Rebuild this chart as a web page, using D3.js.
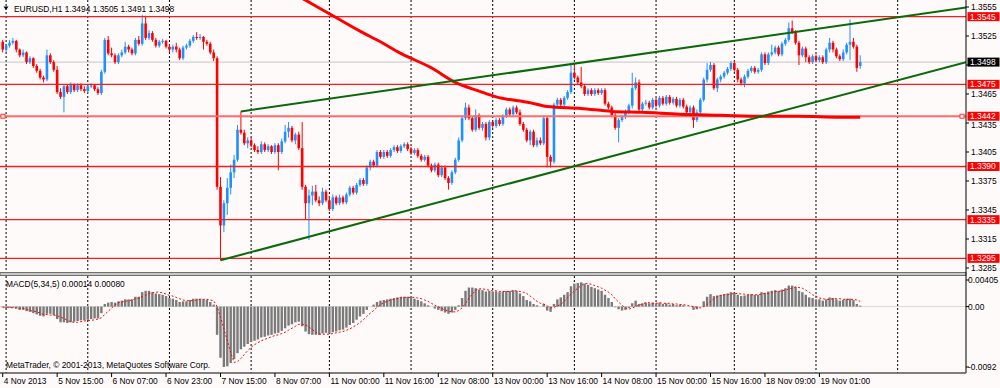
<html>
<head>
<script src="https://d3js.org/d3.v7.min.js"></script>
<style>
body { margin: 0; background: #fffafa; }
text { font-family: "Liberation Sans", Arial, sans-serif; font-size: 8.4px; fill: #000; }
</style>
</head>
<body>
<svg width="1000" height="388"></svg>
<script>
// EURUSD H1, 4 Nov 23:00 .. 19 Nov 13:00 2013 (bar index 0..252)
var open = [
1.3519,1.3511,1.3515,1.3518,1.3520,1.3511,1.3505,1.3508,1.3498,1.3502,
1.3494,1.3489,1.3482,1.3480,1.3505,1.3498,1.3490,1.3467,1.3462,1.3473,
1.3467,1.3475,1.3469,1.3474,1.3470,1.3468,1.3473,1.3474,1.3470,1.3466,
1.3488,1.3521,1.3507,1.3505,1.3498,1.3505,1.3508,1.3514,1.3511,1.3507,
1.3521,1.3517,1.3538,1.3523,1.3528,1.3521,1.3515,1.3519,1.3520,1.3514,
1.3511,1.3514,1.3511,1.3502,1.3513,1.3515,1.3520,1.3524,1.3523,1.3524,
1.3519,1.3517,1.3508,1.3502,1.3369,1.3329,1.3352,1.3368,1.3384,1.3397,
1.3428,1.3425,1.3414,1.3417,1.3412,1.3407,1.3405,1.3413,1.3407,1.3411,
1.3405,1.3412,1.3405,1.3416,1.3426,1.3430,1.3417,1.3423,1.3409,1.3369,
1.3352,1.3360,1.3364,1.3355,1.3352,1.3364,1.3355,1.3346,1.3358,1.3352,
1.3358,1.3353,1.3361,1.3368,1.3363,1.3371,1.3376,1.3372,1.3389,1.3395,
1.3391,1.3405,1.3400,1.3405,1.3401,1.3407,1.3410,1.3406,1.3411,1.3413,
1.3408,1.3404,1.3407,1.3401,1.3397,1.3400,1.3391,1.3386,1.3392,1.3381,
1.3389,1.3378,1.3373,1.3384,1.3397,1.3417,1.3440,1.3451,1.3440,1.3428,
1.3443,1.3430,1.3434,1.3420,1.3436,1.3432,1.3438,1.3434,1.3442,1.3449,
1.3444,1.3451,1.3446,1.3434,1.3428,1.3417,1.3426,1.3412,1.3417,1.3414,
1.3440,1.3400,1.3395,1.3454,1.3459,1.3454,1.3461,1.3467,1.3487,1.3482,
1.3477,1.3473,1.3465,1.3469,1.3465,1.3469,1.3466,1.3469,1.3455,1.3451,
1.3443,1.3430,1.3438,1.3441,1.3446,1.3453,1.3471,1.3477,1.3449,1.3455,
1.3456,1.3451,1.3459,1.3453,1.3461,1.3455,1.3462,1.3456,1.3460,1.3453,
1.3459,1.3452,1.3446,1.3451,1.3438,1.3446,1.3459,1.3480,1.3490,1.3495,
1.3471,1.3480,1.3483,1.3487,1.3491,1.3497,1.3490,1.3480,1.3476,1.3483,
1.3489,1.3492,1.3488,1.3490,1.3506,1.3497,1.3506,1.3508,1.3513,1.3506,
1.3517,1.3521,1.3533,1.3529,1.3518,1.3505,1.3512,1.3503,1.3498,1.3504,
1.3500,1.3503,1.3498,1.3511,1.3518,1.3511,1.3504,1.3501,1.3508,1.3516,
1.3519,1.3514,1.3494];
var high = [
1.3521,1.3517,1.3521,1.3523,1.3521,1.3512,1.3511,1.3509,1.3504,1.3503,
1.3496,1.3491,1.3484,1.3511,1.3507,1.3500,1.3494,1.3471,1.3475,1.3475,
1.3477,1.3476,1.3476,1.3476,1.3473,1.3475,1.3476,1.3475,1.3472,1.3490,
1.3523,1.3525,1.3513,1.3507,1.3507,1.3511,1.3519,1.3516,1.3513,1.3523,
1.3525,1.3547,1.3546,1.3531,1.3530,1.3523,1.3521,1.3522,1.3521,1.3516,
1.3516,1.3518,1.3513,1.3515,1.3517,1.3522,1.3526,1.3529,1.3527,1.3525,
1.3521,1.3519,1.3511,1.3504,1.3379,1.3355,1.3378,1.3392,1.3402,1.3433,
1.3447,1.3428,1.3420,1.3420,1.3414,1.3411,1.3416,1.3415,1.3413,1.3412,
1.3414,1.3414,1.3419,1.3433,1.3436,1.3432,1.3425,1.3426,1.3436,1.3371,
1.3366,1.3370,1.3371,1.3359,1.3368,1.3366,1.3359,1.3361,1.3360,1.3361,
1.3360,1.3363,1.3370,1.3370,1.3373,1.3378,1.3378,1.3391,1.3397,1.3397,
1.3407,1.3407,1.3407,1.3407,1.3409,1.3412,1.3412,1.3413,1.3415,1.3415,
1.3410,1.3409,1.3409,1.3403,1.3402,1.3402,1.3393,1.3394,1.3394,1.3391,
1.3391,1.3380,1.3386,1.3399,1.3420,1.3442,1.3456,1.3454,1.3442,1.3449,
1.3445,1.3436,1.3436,1.3438,1.3438,1.3440,1.3440,1.3444,1.3451,1.3451,
1.3453,1.3453,1.3449,1.3436,1.3430,1.3428,1.3428,1.3420,1.3420,1.3443,
1.3442,1.3402,1.3456,1.3461,1.3461,1.3463,1.3469,1.3495,1.3495,1.3484,
1.3493,1.3475,1.3471,1.3471,1.3471,1.3471,1.3471,1.3471,1.3457,1.3453,
1.3445,1.3440,1.3443,1.3449,1.3455,1.3487,1.3482,1.3480,1.3457,1.3459,
1.3458,1.3461,1.3461,1.3463,1.3463,1.3464,1.3464,1.3462,1.3462,1.3461,
1.3461,1.3454,1.3453,1.3453,1.3449,1.3461,1.3482,1.3497,1.3498,1.3497,
1.3482,1.3485,1.3489,1.3493,1.3499,1.3499,1.3492,1.3482,1.3485,1.3491,
1.3494,1.3494,1.3492,1.3508,1.3508,1.3508,1.3516,1.3515,1.3515,1.3519,
1.3523,1.3539,1.3541,1.3531,1.3520,1.3514,1.3514,1.3505,1.3506,1.3506,
1.3505,1.3505,1.3513,1.3523,1.3520,1.3513,1.3506,1.3511,1.3518,1.3542,
1.3523,1.3516,1.3505];
var low = [
1.3508,1.3508,1.3513,1.3516,1.3508,1.3503,1.3503,1.3496,1.3496,1.3492,
1.3487,1.3480,1.3477,1.3478,1.3496,1.3488,1.3465,1.3460,1.3446,1.3465,
1.3465,1.3467,1.3467,1.3468,1.3466,1.3466,1.3471,1.3468,1.3464,1.3464,
1.3486,1.3505,1.3503,1.3496,1.3496,1.3503,1.3506,1.3508,1.3505,1.3505,
1.3515,1.3515,1.3521,1.3521,1.3519,1.3513,1.3513,1.3517,1.3512,1.3508,
1.3508,1.3508,1.3500,1.3500,1.3511,1.3513,1.3518,1.3521,1.3521,1.3511,
1.3515,1.3506,1.3499,1.3366,1.3293,1.3322,1.3340,1.3361,1.3378,1.3395,
1.3423,1.3412,1.3409,1.3410,1.3405,1.3403,1.3403,1.3405,1.3405,1.3403,
1.3403,1.3386,1.3403,1.3414,1.3420,1.3415,1.3413,1.3407,1.3366,1.3335,
1.3314,1.3350,1.3353,1.3349,1.3350,1.3353,1.3344,1.3344,1.3350,1.3350,
1.3351,1.3351,1.3359,1.3361,1.3361,1.3369,1.3370,1.3370,1.3386,1.3389,
1.3389,1.3398,1.3398,1.3399,1.3399,1.3405,1.3404,1.3404,1.3409,1.3406,
1.3402,1.3402,1.3399,1.3395,1.3395,1.3389,1.3384,1.3384,1.3379,1.3379,
1.3376,1.3366,1.3371,1.3382,1.3395,1.3415,1.3438,1.3438,1.3426,1.3426,
1.3428,1.3427,1.3417,1.3417,1.3430,1.3430,1.3432,1.3432,1.3440,1.3442,
1.3442,1.3444,1.3432,1.3426,1.3415,1.3412,1.3410,1.3410,1.3412,1.3412,
1.3389,1.3389,1.3393,1.3451,1.3451,1.3451,1.3459,1.3465,1.3480,1.3475,
1.3471,1.3463,1.3463,1.3463,1.3463,1.3464,1.3464,1.3453,1.3449,1.3441,
1.3428,1.3415,1.3436,1.3439,1.3444,1.3450,1.3469,1.3446,1.3446,1.3453,
1.3449,1.3449,1.3451,1.3451,1.3453,1.3453,1.3454,1.3454,1.3451,1.3451,
1.3450,1.3444,1.3444,1.3430,1.3436,1.3444,1.3457,1.3477,1.3488,1.3469,
1.3467,1.3477,1.3481,1.3485,1.3489,1.3488,1.3477,1.3474,1.3472,1.3481,
1.3487,1.3486,1.3486,1.3488,1.3495,1.3495,1.3504,1.3506,1.3504,1.3504,
1.3515,1.3519,1.3527,1.3516,1.3495,1.3503,1.3498,1.3496,1.3496,1.3498,
1.3498,1.3496,1.3496,1.3508,1.3508,1.3502,1.3499,1.3499,1.3506,1.3500,
1.3512,1.3488,1.3491];
var close = [
1.3511,1.3515,1.3518,1.3520,1.3511,1.3505,1.3508,1.3498,1.3502,1.3494,
1.3489,1.3482,1.3480,1.3505,1.3498,1.3490,1.3467,1.3462,1.3473,1.3467,
1.3475,1.3469,1.3474,1.3470,1.3468,1.3473,1.3474,1.3470,1.3466,1.3488,
1.3521,1.3507,1.3505,1.3498,1.3505,1.3508,1.3514,1.3511,1.3507,1.3521,
1.3517,1.3538,1.3523,1.3528,1.3521,1.3515,1.3519,1.3520,1.3514,1.3511,
1.3514,1.3511,1.3502,1.3513,1.3515,1.3520,1.3524,1.3523,1.3524,1.3519,
1.3517,1.3508,1.3502,1.3369,1.3329,1.3352,1.3368,1.3384,1.3397,1.3428,
1.3425,1.3414,1.3417,1.3412,1.3407,1.3405,1.3413,1.3407,1.3411,1.3405,
1.3412,1.3405,1.3416,1.3426,1.3430,1.3417,1.3423,1.3409,1.3369,1.3352,
1.3360,1.3364,1.3355,1.3352,1.3364,1.3355,1.3346,1.3358,1.3352,1.3358,
1.3353,1.3361,1.3368,1.3363,1.3371,1.3376,1.3372,1.3389,1.3395,1.3391,
1.3405,1.3400,1.3405,1.3401,1.3407,1.3410,1.3406,1.3411,1.3413,1.3408,
1.3404,1.3407,1.3401,1.3397,1.3400,1.3391,1.3386,1.3392,1.3381,1.3389,
1.3378,1.3373,1.3384,1.3397,1.3417,1.3440,1.3451,1.3440,1.3428,1.3443,
1.3430,1.3434,1.3420,1.3436,1.3432,1.3438,1.3434,1.3442,1.3449,1.3444,
1.3451,1.3446,1.3434,1.3428,1.3417,1.3426,1.3412,1.3417,1.3414,1.3440,
1.3400,1.3395,1.3454,1.3459,1.3454,1.3461,1.3467,1.3487,1.3482,1.3477,
1.3473,1.3465,1.3469,1.3465,1.3469,1.3466,1.3469,1.3455,1.3451,1.3443,
1.3430,1.3438,1.3441,1.3446,1.3453,1.3471,1.3477,1.3449,1.3455,1.3456,
1.3451,1.3459,1.3453,1.3461,1.3455,1.3462,1.3456,1.3460,1.3453,1.3459,
1.3452,1.3446,1.3451,1.3438,1.3446,1.3459,1.3480,1.3490,1.3495,1.3471,
1.3480,1.3483,1.3487,1.3491,1.3497,1.3490,1.3480,1.3476,1.3483,1.3489,
1.3492,1.3488,1.3490,1.3506,1.3497,1.3506,1.3508,1.3513,1.3506,1.3517,
1.3521,1.3533,1.3529,1.3518,1.3505,1.3512,1.3503,1.3498,1.3504,1.3500,
1.3503,1.3498,1.3511,1.3518,1.3511,1.3504,1.3501,1.3508,1.3516,1.3519,
1.3514,1.3492,1.3498];

// MACD(5,34,5): main histogram and signal
var macdMain = [
-0.0001,-0.0002,-0.0002,-0.0002,-0.0003,-0.0005,-0.0005,-0.0007,-0.0008,-0.0010,
-0.0012,-0.0014,-0.0015,-0.0011,-0.0011,-0.0013,-0.0019,-0.0024,-0.0024,-0.0025,
-0.0024,-0.0023,-0.0022,-0.0021,-0.0021,-0.0020,-0.0019,-0.0018,-0.0018,-0.0010,
0.0004,0.0006,0.0007,0.0006,0.0008,0.0009,0.0011,0.0011,0.0011,0.0015,
0.0015,0.0022,0.0024,0.0024,0.0022,0.0020,0.0019,0.0018,0.0016,0.0013,
0.0012,0.0010,0.0007,0.0008,0.0008,0.0010,0.0012,0.0012,0.0012,0.0011,
0.0010,0.0007,0.0003,-0.0043,-0.0078,-0.0092,-0.0091,-0.0086,-0.0080,-0.0071,
-0.0065,-0.0061,-0.0057,-0.0054,-0.0052,-0.0050,-0.0047,-0.0046,-0.0044,-0.0043,
-0.0041,-0.0040,-0.0037,-0.0033,-0.0029,-0.0027,-0.0024,-0.0023,-0.0030,-0.0038,
-0.0042,-0.0043,-0.0043,-0.0043,-0.0041,-0.0040,-0.0041,-0.0039,-0.0038,-0.0036,
-0.0035,-0.0032,-0.0028,-0.0025,-0.0020,-0.0015,-0.0011,-0.0005,0.0000,0.0003,
0.0007,0.0009,0.0010,0.0011,0.0012,0.0013,0.0014,0.0015,0.0015,0.0015,
0.0013,0.0012,0.0010,0.0008,0.0005,0.0002,0.0000,-0.0003,-0.0005,-0.0007,
-0.0009,-0.0011,-0.0009,-0.0005,0.0002,0.0013,0.0024,0.0029,0.0029,0.0028,
0.0026,0.0025,0.0023,0.0024,0.0023,0.0023,0.0022,0.0023,0.0024,0.0024,
0.0025,0.0024,0.0020,0.0016,0.0010,0.0008,0.0004,0.0002,0.0000,0.0004,
-0.0006,-0.0008,0.0004,0.0011,0.0014,0.0018,0.0022,0.0031,0.0035,0.0036,
0.0037,0.0035,0.0033,0.0030,0.0028,0.0026,0.0024,0.0018,0.0013,0.0007,
-0.0001,-0.0004,-0.0006,-0.0005,-0.0002,0.0005,0.0009,0.0004,0.0005,0.0006,
0.0005,0.0006,0.0005,0.0006,0.0004,0.0005,0.0003,0.0004,0.0002,0.0003,
0.0002,0.0000,0.0000,-0.0005,-0.0004,0.0000,0.0008,0.0015,0.0019,0.0016,
0.0017,0.0018,0.0019,0.0020,0.0022,0.0021,0.0018,0.0016,0.0017,0.0018,
0.0019,0.0018,0.0018,0.0022,0.0021,0.0023,0.0024,0.0025,0.0024,0.0026,
0.0028,0.0032,0.0032,0.0030,0.0024,0.0022,0.0018,0.0014,0.0013,0.0011,
0.0011,0.0009,0.0011,0.0014,0.0013,0.0011,0.0009,0.0010,0.0012,0.0012,
0.0010,0.0004,0.00014];
var macdSignal = [
-0.0001,-0.0001,-0.0001,-0.0002,-0.0002,-0.0003,-0.0003,-0.0004,-0.0006,-0.0007,
-0.0008,-0.0010,-0.0012,-0.0012,-0.0013,-0.0013,-0.0014,-0.0016,-0.0018,-0.0021,
-0.0023,-0.0024,-0.0024,-0.0023,-0.0022,-0.0021,-0.0021,-0.0020,-0.0019,-0.0017,
-0.0012,-0.0007,-0.0002,0.0002,0.0006,0.0007,0.0008,0.0009,0.0010,0.0012,
0.0013,0.0015,0.0017,0.0020,0.0021,0.0022,0.0022,0.0021,0.0019,0.0017,
0.0016,0.0014,0.0012,0.0010,0.0009,0.0009,0.0009,0.0010,0.0011,0.0011,
0.0011,0.0010,0.0009,0.0000,-0.0016,-0.0034,-0.0052,-0.0070,-0.0085,-0.0084,
-0.0079,-0.0073,-0.0067,-0.0062,-0.0058,-0.0055,-0.0052,-0.0050,-0.0048,-0.0046,
-0.0044,-0.0043,-0.0041,-0.0039,-0.0036,-0.0033,-0.0030,-0.0027,-0.0027,-0.0028,
-0.0031,-0.0035,-0.0039,-0.0042,-0.0042,-0.0042,-0.0042,-0.0041,-0.0040,-0.0039,
-0.0038,-0.0036,-0.0034,-0.0031,-0.0028,-0.0024,-0.0020,-0.0015,-0.0010,-0.0006,
-0.0001,0.0003,0.0006,0.0008,0.0010,0.0011,0.0012,0.0013,0.0014,0.0014,
0.0014,0.0014,0.0013,0.0012,0.0010,0.0008,0.0005,0.0002,0.0000,-0.0003,
-0.0005,-0.0007,-0.0008,-0.0008,-0.0006,-0.0002,0.0005,0.0013,0.0019,0.0025,
0.0027,0.0027,0.0026,0.0025,0.0024,0.0024,0.0023,0.0023,0.0023,0.0023,
0.0024,0.0024,0.0023,0.0022,0.0020,0.0016,0.0012,0.0008,0.0005,0.0004,
0.0001,-0.0002,-0.0001,0.0001,0.0003,0.0008,0.0014,0.0019,0.0024,0.0028,
0.0032,0.0035,0.0035,0.0034,0.0032,0.0030,0.0028,0.0025,0.0022,0.0018,
0.0012,0.0007,0.0002,-0.0002,-0.0004,-0.0002,0.0000,0.0002,0.0004,0.0006,
0.0006,0.0005,0.0005,0.0006,0.0005,0.0005,0.0005,0.0004,0.0004,0.0003,
0.0003,0.0002,0.0001,0.0000,-0.0001,-0.0002,0.0000,0.0003,0.0008,0.0012,
0.0015,0.0017,0.0018,0.0018,0.0019,0.0020,0.0020,0.0019,0.0019,0.0018,
0.0018,0.0018,0.0018,0.0019,0.0020,0.0020,0.0022,0.0023,0.0023,0.0024,
0.0025,0.0027,0.0028,0.0030,0.0029,0.0028,0.0025,0.0022,0.0018,0.0016,
0.0013,0.0012,0.0011,0.0011,0.0012,0.0012,0.0012,0.0011,0.0011,0.0011,
0.0011,0.0010,0.0008];

// long moving average (red curve), read at some bars
var maIndex = [85, 93, 99, 105, 111, 117, 126, 133, 140, 145, 155, 160, 170, 179, 188, 199, 211, 223, 234, 246, 252];
var maValue = [1.3570, 1.3554, 1.3542, 1.3530, 1.3519, 1.3507, 1.3492, 1.3477, 1.3468, 1.3462, 1.3456, 1.3452, 1.3450, 1.3447, 1.3446, 1.3444, 1.3443, 1.3442, 1.3442, 1.3441, 1.3441];

// objects
var levels = [1.3545, 1.3475, 1.3442, 1.3390, 1.3335, 1.3295];
var bidPrice = 1.3498;
var trendUpper = [[70, 1.3447], [283.1, 1.35545]];
var trendLower = [[64, 1.3293], [283.1, 1.3498]];

var priceTicks = [1.3555, 1.3525, 1.3495, 1.3465, 1.3435, 1.3405, 1.3375, 1.3345, 1.3315, 1.3285];
var macdTicks = [0.00405, 0.0, -0.0092];
var macdTickText = ["0.00405", "0.00", "-0.0092"];
var timeIndex = [0, 16, 32, 48, 64, 80, 96, 112, 128, 144, 160, 176, 192, 208, 224, 240];
var timeLabels = ["4 Nov 2013", "5 Nov 15:00", "6 Nov 07:00", "6 Nov 23:00", "7 Nov 15:00", "8 Nov 07:00",
  "11 Nov 00:00", "11 Nov 16:00", "12 Nov 08:00", "13 Nov 00:00", "13 Nov 16:00", "14 Nov 08:00",
  "15 Nov 00:00", "15 Nov 16:00", "18 Nov 09:00", "19 Nov 01:00"];
var dayStarts = [1, 25, 49, 73, 96, 120, 144, 168, 192, 215, 239, 263];

var bull = "#1e90ff", bear = "#ff0000";
var axisX = 966, mainBottom = 272, macdTop = 276, macdBottom = 373;

var svg = d3.select("svg");
var x = d3.scaleLinear().domain([0, 240]).range([2.7, 819.4]);
var y = d3.scaleLinear().domain([1.3285, 1.3555]).range([268, 7]);
var ym = d3.scaleLinear().domain([-0.0092, 0.00405]).range([367, 280]);

svg.append("rect").attr("width", 1000).attr("height", 388).attr("fill", "#fffafa");

var defs = svg.append("defs");
defs.append("clipPath").attr("id", "cm").append("rect").attr("x", 0).attr("y", 0).attr("width", axisX).attr("height", mainBottom);
defs.append("clipPath").attr("id", "cd").append("rect").attr("x", 0).attr("y", macdTop).attr("width", axisX).attr("height", macdBottom - macdTop);

var gm = svg.append("g").attr("clip-path", "url(#cm)");
var gd = svg.append("g").attr("clip-path", "url(#cd)");

// dotted day grid
[[gm, 0, mainBottom], [gd, macdTop, macdBottom]].forEach(function (p) {
  p[0].selectAll(null).data(dayStarts).enter().append("line")
    .attr("x1", d => x(d)).attr("x2", d => x(d))
    .attr("y1", p[1]).attr("y2", p[2])
    .attr("stroke", "#000").attr("stroke-width", 1).attr("stroke-dasharray", "2,2");
});

// bid line
gm.append("line").attr("x1", 0).attr("x2", axisX).attr("y1", y(bidPrice)).attr("y2", y(bidPrice))
  .attr("stroke", "#c4c4c4").attr("stroke-width", 1);

// candles
var bars = d3.range(close.length).map(i => ({ i: i, o: open[i], h: high[i], l: low[i], c: close[i] }));
gm.selectAll("line.wick").data(bars).enter().append("line")
  .attr("x1", d => x(d.i)).attr("x2", d => x(d.i))
  .attr("y1", d => y(d.h)).attr("y2", d => y(d.l))
  .attr("stroke", d => d.c >= d.o ? bull : bear).attr("stroke-width", 1);
gm.selectAll("rect.body").data(bars).enter().append("rect")
  .attr("x", d => x(d.i) - 1.3).attr("width", 2.6)
  .attr("y", d => y(Math.max(d.o, d.c)))
  .attr("height", d => Math.max(1, Math.abs(y(d.o) - y(d.c))))
  .attr("fill", d => d.c >= d.o ? bull : bear);

// horizontal levels
gm.selectAll("line.lvl").data(levels).enter().append("line")
  .attr("x1", 0).attr("x2", axisX).attr("y1", d => y(d)).attr("y2", d => y(d))
  .attr("stroke", d => d == 1.3442 ? "#ff6a6a" : "#ff1a1a")
  .attr("stroke-width", d => d == 1.3442 ? 2.2 : 1.3);
gm.selectAll("rect.hnd").data([3, 962]).enter().append("rect")
  .attr("x", d => d - 2).attr("y", y(1.3442) - 2).attr("width", 4).attr("height", 4)
  .attr("fill", "#fffafa").attr("stroke", "#ff3030").attr("stroke-width", 1);

// moving average
var maPts = maIndex.map((d, k) => [d, maValue[k]]);
gm.append("path").datum(maPts)
  .attr("d", d3.line().x(d => x(d[0])).y(d => y(d[1])).curve(d3.curveMonotoneX))
  .attr("fill", "none").attr("stroke", "#ff0000").attr("stroke-width", 3);

// trend lines
[trendUpper, trendLower].forEach(function (t) {
  gm.append("line").attr("x1", x(t[0][0])).attr("y1", y(t[0][1]))
    .attr("x2", x(t[1][0])).attr("y2", y(t[1][1]))
    .attr("stroke", "#0a6a0a").attr("stroke-width", 2);
});

// MACD histogram + signal
gd.append("line").attr("x1", 0).attr("x2", axisX).attr("y1", ym(0)).attr("y2", ym(0)).attr("stroke", "#d8d8d8");
gd.selectAll("rect.h").data(macdMain).enter().append("rect")
  .attr("x", (d, i) => x(i) - 1.2).attr("width", 2.4)
  .attr("y", d => Math.min(ym(0), ym(d)))
  .attr("height", d => Math.abs(ym(d) - ym(0)))
  .attr("fill", "#7a7a7a");
gd.append("path").datum(macdSignal)
  .attr("d", d3.line().x((d, i) => x(i)).y(d => ym(d)))
  .attr("fill", "none").attr("stroke", "#ff0000").attr("stroke-width", 1).attr("stroke-dasharray", "2,2");

// panel separator and frame
svg.append("rect").attr("x", 0).attr("y", mainBottom + 0.5).attr("width", axisX).attr("height", 3)
  .attr("fill", "#c8c8c8").attr("stroke", "#707070").attr("stroke-width", 1);
svg.append("line").attr("x1", axisX).attr("x2", axisX).attr("y1", 0).attr("y2", macdBottom).attr("stroke", "#000");
svg.append("line").attr("x1", 0).attr("x2", axisX).attr("y1", macdBottom).attr("y2", macdBottom)
  .attr("stroke", "#555").attr("stroke-width", 1.5);

// price axis; a label hidden under a price tag is skipped, one just below a tag is pushed clear of it
var tags = levels.map(d => ({ v: d, bg: "#ff0000" })).concat([{ v: bidPrice, bg: "#000" }]);
var shownTicks = priceTicks.filter(t => !tags.some(g => Math.abs(y(g.v) - y(t)) < 6));
function labelY(t) {
  var py = y(t);
  tags.forEach(function (g) {
    var gy = y(g.v);
    if (py > gy && py - gy < 10) py = Math.max(py, gy + 9.2);
  });
  return py;
}
svg.selectAll("line.pt").data(priceTicks).enter().append("line")
  .attr("x1", axisX).attr("x2", axisX + 3).attr("y1", d => y(d)).attr("y2", d => y(d)).attr("stroke", "#000");
svg.selectAll("text.pt").data(shownTicks).enter().append("text")
  .attr("x", axisX + 5).attr("y", d => labelY(d)).attr("dy", "0.35em").text(d => d.toFixed(4));

var tg = svg.selectAll("g.tag").data(tags).enter().append("g");
tg.append("rect").attr("x", axisX + 1.5).attr("y", d => y(d.v) - 4.5).attr("width", 32).attr("height", 9).attr("fill", d => d.bg);
tg.append("text").attr("x", axisX + 4).attr("y", d => y(d.v)).attr("dy", "0.35em")
  .style("fill", "#fff").text(d => d.v.toFixed(4));

// macd axis
svg.selectAll("line.mt").data(macdTicks).enter().append("line")
  .attr("x1", axisX).attr("x2", axisX + 3).attr("y1", d => ym(d)).attr("y2", d => ym(d)).attr("stroke", "#000");
svg.selectAll("text.mt").data(macdTicks).enter().append("text")
  .attr("x", axisX + 2).attr("y", d => ym(d)).attr("dy", "0.35em").text((d, i) => macdTickText[i]);

// time axis
svg.selectAll("line.tt").data(timeIndex).enter().append("line")
  .attr("x1", d => x(d)).attr("x2", d => x(d)).attr("y1", macdBottom).attr("y2", macdBottom + 4).attr("stroke", "#000");
svg.selectAll("text.tt").data(timeIndex).enter().append("text")
  .attr("x", d => x(d) + 1).attr("y", 384).text((d, i) => timeLabels[i]);

// captions
svg.append("path").attr("d", "M3.5,6.5 L8.5,6.5 L6,10 Z").attr("fill", "#000");
svg.append("text").attr("x", 14).attr("y", 12).text("EURUSD,H1  1.3494 1.3505 1.3491 1.3498");
svg.append("text").attr("x", 6).attr("y", 287).text("MACD(5,34,5) 0.00014 0.00080");
svg.append("text").attr("x", 6).attr("y", 368).text("MetaTrader, \u00a9 2001-2013, MetaQuotes Software Corp.");
</script>
</body>
</html>
